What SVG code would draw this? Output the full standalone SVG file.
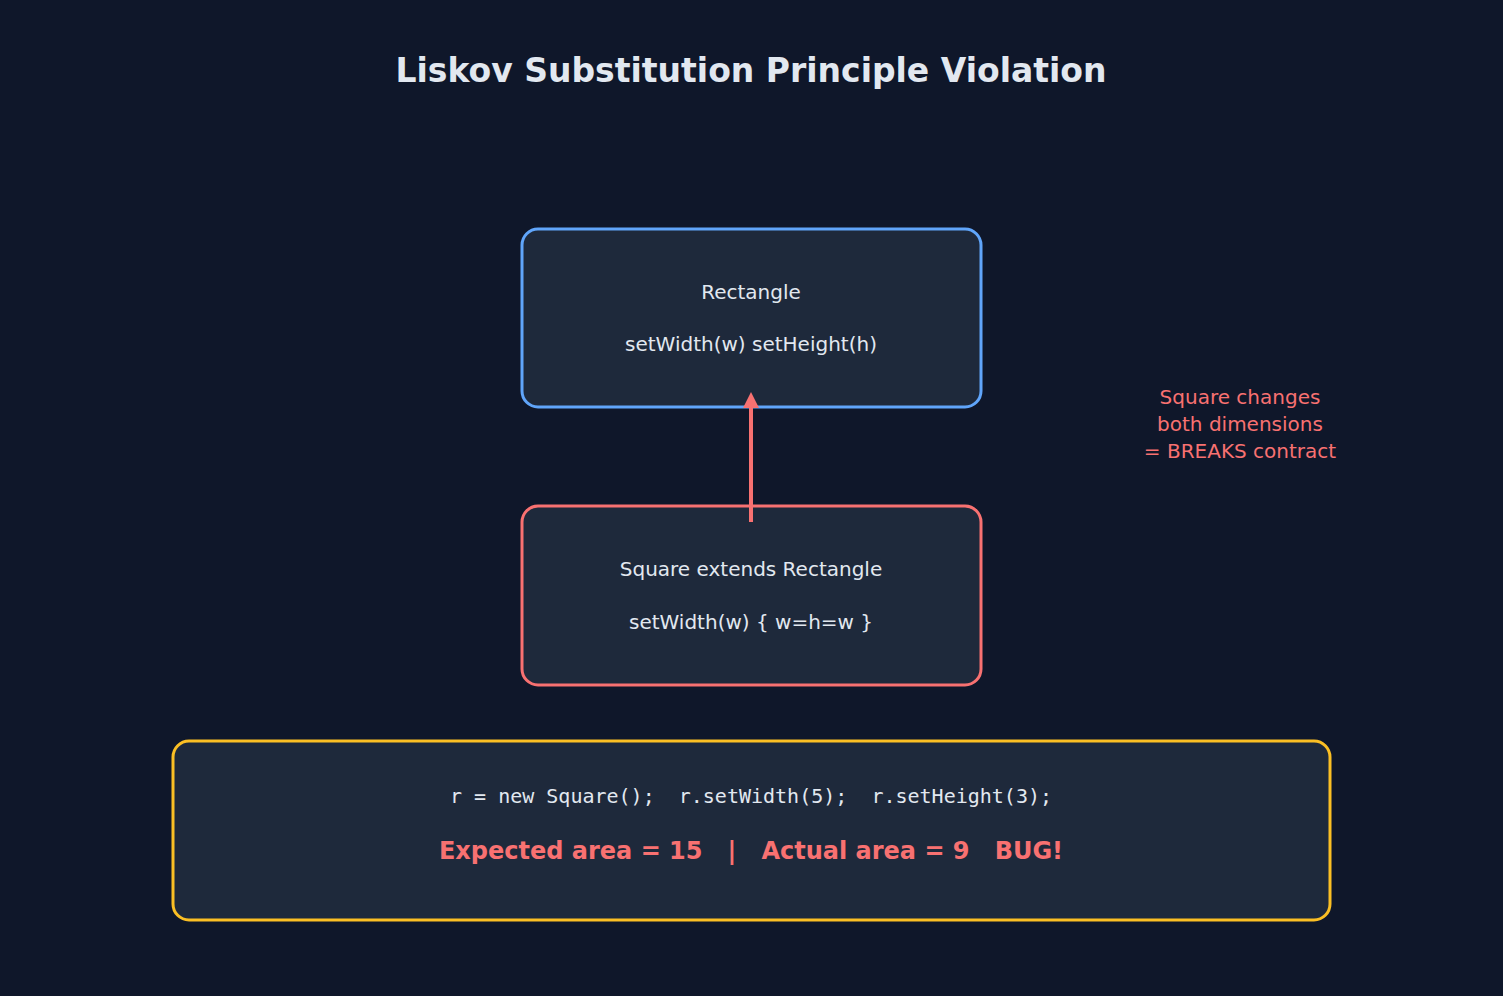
<svg xmlns="http://www.w3.org/2000/svg" width="1503" height="996" viewBox="0 0 1503 996">
<style>
.box{fill:#1e293b;stroke-width:3}
.t{font-family:"DejaVu Sans",sans-serif;font-size:20px;fill:#e2e8f0;text-anchor:middle}
.r{fill:#f87171}
</style>
<defs><marker id="ah" viewBox="0 0 10 10" refX="5" refY="5" markerWidth="4" markerHeight="4" orient="auto"><path d="M0,0L10,5L0,10z" fill="#f87171"/></marker></defs>
<rect width="1503" height="996" fill="#0f172a"/>
<text x="751" y="82" class="t" style="font-size:33px;font-weight:bold">Liskov Substitution Principle Violation</text>
<g id="rectangle"><rect class="box" x="522" y="229" width="459" height="178" rx="16" stroke="#60a5fa"/>
<text class="t" x="751" y="299">Rectangle</text><text class="t" x="751" y="351">setWidth(w)  setHeight(h)</text></g>
<g id="square"><rect class="box" x="522" y="506" width="459" height="179" rx="16" stroke="#f87171"/>
<text class="t" x="751" y="576">Square extends Rectangle</text><text class="t" x="751" y="629">setWidth(w) { w=h=w }</text></g>
<g id="connectors"><line x1="751" y1="522" x2="751" y2="400" stroke="#f87171" stroke-width="4" marker-end="url(#ah)"/></g>
<g id="note"><text class="t r" x="1240" y="404">Square changes</text><text class="t r" x="1240" y="431">both dimensions</text><text class="t r" x="1240" y="458">= BREAKS contract</text></g>
<g id="code"><rect class="box" x="173" y="741" width="1157" height="179" rx="16" stroke="#fbbf24"/>
<text class="t" x="751" y="803" style="font-family:'DejaVu Sans Mono',monospace" xml:space="preserve">r = new Square();  r.setWidth(5);  r.setHeight(3);</text>
<text class="t r" x="751" y="859" style="font-size:24px;font-weight:bold" xml:space="preserve">Expected area = 15   |   Actual area = 9   BUG!</text></g>
</svg>
